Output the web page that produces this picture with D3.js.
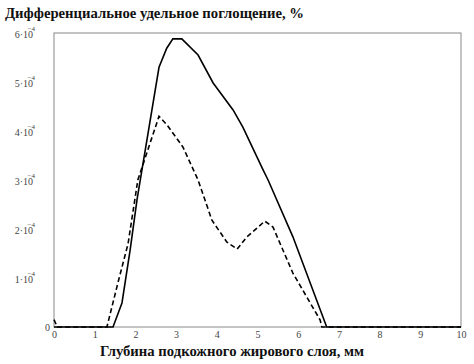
<!DOCTYPE html>
<html><head><meta charset="utf-8">
<script src="https://cdn.jsdelivr.net/npm/d3@7/dist/d3.min.js"></script>
<style>body{margin:0;background:#fff}svg{display:block}</style>
</head><body><svg id="c" width="474" height="364"></svg>
<script>
const xTicks = [0,1,2,3,4,5,6,7,8,9,10];
const yTicks = [0,1,2,3,4,5,6]; // units of 1e-4
const solidX = [0,1.45,1.67,1.87,2.04,2.16,2.58,2.77,2.92,3.14,3.54,3.91,4.4,4.64,5.14,5.26,5.87,6.7,10];
const solidY = [0,0,0.49,1.57,2.6,3.2,5.3,5.69,5.88,5.88,5.55,4.98,4.43,4.08,3.2,3.0,1.84,0,0];
const dashX = [0,0.08,1.3,1.57,1.82,2.06,2.58,2.78,3.17,3.54,3.88,4.25,4.5,4.74,5.18,5.38,5.87,6.54,6.58,10];
const dashY = [0.15,0,0,0.9,1.7,3.0,4.3,4.12,3.67,3.0,2.18,1.73,1.59,1.84,2.16,2.04,1.1,0.14,0,0];

const SERIF = "'Liberation Serif','Times New Roman',serif";
const svg = d3.select("#c");
const x = d3.scaleLinear().domain([0,10]).range([54,461]);
const y = d3.scaleLinear().domain([0,6]).range([327,33]);

svg.append("text").attr("x",5).attr("y",18).style("font-family",SERIF)
  .style("font-weight","bold").style("font-size","14.7px").attr("fill","#111")
  .text("Дифференциальное удельное поглощение, %");

svg.append("rect").attr("x",x(0)).attr("y",y(6)).attr("width",x(10)-x(0)).attr("height",y(0)-y(6))
  .attr("fill","none").attr("stroke","#888").attr("stroke-width",1);

const xa = svg.append("g").attr("transform",`translate(0,${y(0)})`)
  .call(d3.axisBottom(x).tickValues(xTicks).tickSize(0).tickPadding(4).tickFormat(d3.format("d")));
xa.select(".domain").remove();
xa.selectAll("text").style("font-family",SERIF).style("font-size","10px").attr("fill","#444");

const ya = svg.append("g").attr("transform",`translate(${x(0)},0)`)
  .call(d3.axisLeft(y).tickValues(yTicks).tickSize(0).tickPadding(0).tickFormat(d=>""));
ya.select(".domain").remove();
ya.selectAll(".tick").each(function(d){
  const t = d3.select(this);
  t.select("text").remove();
  const g = t.append("text").style("font-family",SERIF).style("font-size","10px")
    .attr("fill","#444").attr("text-anchor","end").attr("dy","0.32em");
  if (d===0) { g.attr("x",-4).text("0"); return; }
  g.attr("x",-21).attr("y",1).text(d+"·10");
  t.append("text").style("font-family",SERIF).style("font-size","7px").attr("fill","#444")
    .attr("x",-19).attr("y",-3).text("−4");
});

const line = d3.line().x(d=>x(d[0])).y(d=>y(d[1]));
svg.append("path").datum(solidX.map((v,i)=>[v,solidY[i]]))
  .attr("d",line).attr("fill","none").attr("stroke","#000").attr("stroke-width",1.6);
svg.append("path").datum(dashX.map((v,i)=>[v,dashY[i]]))
  .attr("d",line).attr("fill","none").attr("stroke","#000").attr("stroke-width",1.6)
  .attr("stroke-dasharray","5,3");

svg.append("text").attr("x",232).attr("y",356).attr("text-anchor","middle")
  .style("font-family",SERIF).style("font-weight","bold").style("font-size","14.7px").attr("fill","#111")
  .text("Глубина подкожного жирового слоя, мм");
</script></body></html>
